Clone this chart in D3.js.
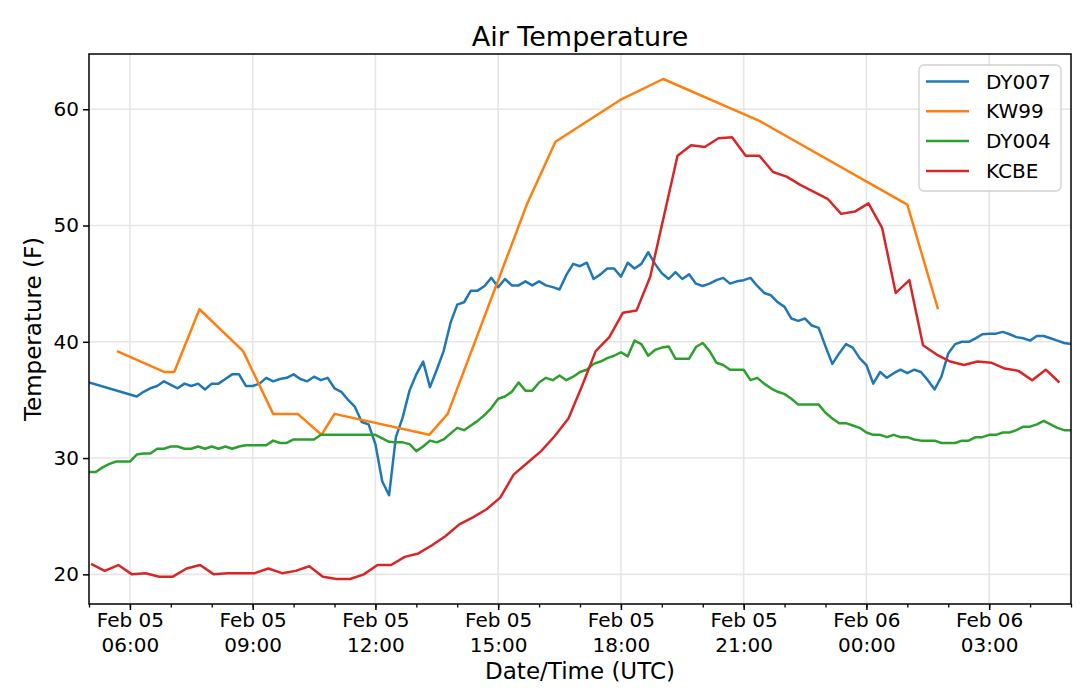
<!DOCTYPE html>
<html>
<head>
<meta charset="utf-8">
<script src="https://cdn.jsdelivr.net/npm/d3@7"></script>
<style>
    body { margin: 0; background: #fff; }
    svg { font-family: "DejaVu Sans", sans-serif; }
</style>
</head>
<body>
<div id="chart"></div>
<script>
// DY stations report every 10 minutes (Feb 05 05:00 -> Feb 06 05:00, UTC)
const dyTimes = [
    "05:00","05:10","05:20","05:30","05:40","05:50",
    "06:00","06:10","06:20","06:30","06:40","06:50",
    "07:00","07:10","07:20","07:30","07:40","07:50",
    "08:00","08:10","08:20","08:30","08:40","08:50",
    "09:00","09:10","09:20","09:30","09:40","09:50",
    "10:00","10:10","10:20","10:30","10:40","10:50",
    "11:00","11:10","11:20","11:30","11:40","11:50",
    "12:00","12:10","12:20","12:30","12:40","12:50",
    "13:00","13:10","13:20","13:30","13:40","13:50",
    "14:00","14:10","14:20","14:30","14:40","14:50",
    "15:00","15:10","15:20","15:30","15:40","15:50",
    "16:00","16:10","16:20","16:30","16:40","16:50",
    "17:00","17:10","17:20","17:30","17:40","17:50",
    "18:00","18:10","18:20","18:30","18:40","18:50",
    "19:00","19:10","19:20","19:30","19:40","19:50",
    "20:00","20:10","20:20","20:30","20:40","20:50",
    "21:00","21:10","21:20","21:30","21:40","21:50",
    "22:00","22:10","22:20","22:30","22:40","22:50",
    "23:00","23:10","23:20","23:30","23:40","23:50",
    "00:00","00:10","00:20","00:30","00:40","00:50",
    "01:00","01:10","01:20","01:30","01:40","01:50",
    "02:00","02:10","02:20","02:30","02:40","02:50",
    "03:00","03:10","03:20","03:30","03:40","03:50",
    "04:00","04:10","04:20","04:30","04:40","04:50",
    "05:00"
];

// DY007 has no reports between 05:10 and 06:00
const dy007Temps = [
    36.5, null, null, null, null, null,
    null, 35.3, 35.7, 36.0, 36.2, 36.6,
    36.3, 36.0, 36.4, 36.2, 36.4, 35.9,
    36.4, 36.4, 36.8, 37.2, 37.2, 36.2,
    36.2, 36.4, 36.9, 36.6, 36.8, 36.9,
    37.2, 36.8, 36.6, 37.0, 36.7, 36.9,
    36.0, 35.7, 35.0, 34.4, 33.1, 32.9,
    31.2, 28.0, 26.8, 31.8, 33.5, 35.8,
    37.2, 38.3, 36.1, 37.6, 39.2, 41.6,
    43.2, 43.4, 44.4, 44.4, 44.8, 45.5,
    44.7, 45.4, 44.85, 44.85, 45.2, 44.85,
    45.2, 44.85, 44.7, 44.5, 45.75, 46.7,
    46.5, 46.8, 45.4, 45.8, 46.3, 46.3,
    45.6, 46.8, 46.3, 46.7, 47.7, 46.7,
    45.9, 45.4, 46.0, 45.4, 45.8, 45.0,
    44.8, 45.0, 45.3, 45.5, 45.0, 45.2,
    45.3, 45.5, 44.8, 44.2, 44.0, 43.4,
    43.0, 42.0, 41.8, 42.0, 41.4, 41.2,
    39.6, 38.1, 39.0, 39.8, 39.5, 38.6,
    38.0, 36.4, 37.4, 36.9, 37.3, 37.6,
    37.3, 37.6, 37.4, 36.7, 35.9, 37.0,
    39.0, 39.8, 40.0, 40.0, 40.3, 40.65,
    40.7, 40.7, 40.85, 40.65, 40.4, 40.3,
    40.1, 40.5, 40.5, 40.3, 40.1, 39.9,
    39.8
];

const dy004Temps = [
    28.8, 28.8, 29.2, 29.5, 29.7, 29.7,
    29.7, 30.3, 30.4, 30.4, 30.8, 30.8,
    31.0, 31.0, 30.8, 30.8, 31.0, 30.8,
    31.0, 30.8, 31.0, 30.8, 31.0, 31.1,
    31.1, 31.1, 31.1, 31.5, 31.3, 31.3,
    31.6, 31.6, 31.6, 31.6, 32.0, 32.0,
    32.0, 32.0, 32.0, 32.0, 32.0, 32.0,
    32.0, 31.7, 31.4, 31.35, 31.35, 31.2,
    30.6, 31.0, 31.5, 31.35, 31.6, 32.1,
    32.6, 32.4, 32.8, 33.2, 33.7, 34.3,
    35.1, 35.3, 35.7, 36.5, 35.8, 35.8,
    36.5, 36.9, 36.7, 37.1, 36.7, 37.0,
    37.4, 37.6, 38.1, 38.3, 38.6, 38.8,
    39.1, 38.75, 40.1, 39.8, 38.8, 39.3,
    39.5, 39.6, 38.55, 38.55, 38.55, 39.55,
    39.9, 39.2, 38.2, 38.0, 37.6, 37.6,
    37.6, 36.7, 36.9, 36.4, 36.0, 35.7,
    35.5, 35.1, 34.6, 34.6, 34.6, 34.6,
    33.9, 33.4, 33.0, 33.0, 32.8, 32.6,
    32.2, 32.0, 32.0, 31.8, 32.0, 31.8,
    31.8, 31.6, 31.5, 31.5, 31.5, 31.3,
    31.3, 31.3, 31.5, 31.5, 31.8, 31.8,
    32.0, 32.0, 32.2, 32.2, 32.4, 32.7,
    32.7, 32.9, 33.2, 32.9, 32.6, 32.4,
    32.4
];

// KW99 reports are irregular
const kw99Times = [
    "05:41", "06:51", "07:05", "07:42", "08:46", "09:30", "10:06", "10:41", "11:00",
    "13:19", "13:46", "15:42", "16:24", "17:59", "19:02", "21:23", "01:00", "01:45"
];
const kw99Temps = [
    39.2, 37.4, 37.4, 42.8, 39.2, 33.8, 33.8, 32.0, 33.8,
    32.0, 33.8, 51.8, 57.2, 60.8, 62.6, 59.0, 51.8, 42.8
];

// KCBE reports every 20 minutes
const kcbeTimes = [
    "05:03","05:23","05:43","06:03","06:23","06:43","07:03","07:23","07:43",
    "08:03","08:23","08:43","09:03","09:23","09:43","10:03","10:23","10:43",
    "11:03","11:23","11:43","12:03","12:23","12:43","13:03","13:23","13:43",
    "14:03","14:23","14:43","15:03","15:23","15:43","16:03","16:23","16:43",
    "17:03","17:23","17:43","18:03","18:23","18:43","19:03","19:23","19:43",
    "20:03","20:23","20:43","21:03","21:23","21:43","22:03","22:23","22:43",
    "23:03","23:23","23:43","00:03","00:23","00:43","01:03","01:23","01:43",
    "02:03","02:23","02:43","03:03","03:23","03:43","04:03","04:23","04:43"
];
const kcbeTemps = [
    20.9, 20.3, 20.8, 20.0, 20.1, 19.8, 19.8, 20.5, 20.8,
    20.0, 20.1, 20.1, 20.1, 20.5, 20.1, 20.3, 20.7, 19.8,
    19.6, 19.6, 20.0, 20.8, 20.8, 21.5, 21.8, 22.5, 23.3,
    24.3, 24.9, 25.6, 26.6, 28.6, 29.6, 30.6, 31.9, 33.4,
    36.2, 39.2, 40.4, 42.5, 42.7, 45.6, 50.8, 56.0, 56.9,
    56.75, 57.5, 57.6, 56.0, 56.0, 54.6, 54.2, 53.5, 52.9,
    52.3, 51.0, 51.2, 51.9, 49.8, 44.2, 45.3, 39.7, 38.9,
    38.3, 38.0, 38.3, 38.2, 37.7, 37.5, 36.7, 37.6, 36.5
];

const stationNames = ["DY007", "KW99", "DY004", "KCBE"];
const yTickValues = [20, 30, 40, 50, 60];

// Turn "HH:MM" strings into UTC dates, rolling over to Feb 06 after midnight
function toDates(times) {
    let day = 0, prev = -1;
    return times.map(t => {
        const [h, m] = t.split(":").map(Number);
        const mins = h * 60 + m;
        if (mins < prev) day += 1;
        prev = mins;
        return new Date(Date.UTC(2020, 1, 5 + day, h, m));
    });
}

function toPoints(times, temps) {
    const dates = toDates(times);
    return temps.map((temp, i) => ({ time: dates[i], temp: temp }))
        .filter(d => d.temp !== null);
}

const series = [
    { name: stationNames[0], points: toPoints(dyTimes, dy007Temps) },
    { name: stationNames[1], points: toPoints(kw99Times, kw99Temps) },
    { name: stationNames[2], points: toPoints(dyTimes, dy004Temps) },
    { name: stationNames[3], points: toPoints(kcbeTimes, kcbeTemps) }
];

createChart(series);

function createChart(series) {
    const width = 1080;
    const height = 698;
    const margin = { top: 54, right: 9, bottom: 94, left: 89 };
    const innerW = width - margin.left - margin.right;
    const innerH = height - margin.top - margin.bottom;
    const fontSize = 20;

    const color = d3.scaleOrdinal().domain(stationNames).range(d3.schemeCategory10);

    const svg = d3.select("#chart")
        .append("svg")
        .attr("width", width)
        .attr("height", height);

    const g = svg.append("g")
        .attr("transform", `translate(${margin.left},${margin.top})`);

    // x spans the whole 24 hours of DY reports
    const allDy = toDates(dyTimes);
    const xScale = d3.scaleUtc()
        .domain([allDy[0], allDy[allDy.length - 1]])
        .range([0, innerW]);

    // y gets matplotlib-style 5% padding around the data
    const allTemps = series.flatMap(s => s.points.map(d => d.temp));
    const [tMin, tMax] = d3.extent(allTemps);
    const pad = (tMax - tMin) * 0.05;
    const yScale = d3.scaleLinear()
        .domain([tMin - pad, tMax + pad])
        .range([innerH, 0]);

    const majorTicks = xScale.ticks(d3.utcHour.every(3));

    // Grid lines
    g.append("g").selectAll("line.gy")
        .data(yTickValues)
        .join("line")
        .attr("x1", 0).attr("x2", innerW)
        .attr("y1", d => yScale(d)).attr("y2", d => yScale(d))
        .attr("stroke", "#e6e6e6").attr("stroke-width", 1.6);

    g.append("g").selectAll("line.gx")
        .data(majorTicks)
        .join("line")
        .attr("x1", d => xScale(d)).attr("x2", d => xScale(d))
        .attr("y1", 0).attr("y2", innerH)
        .attr("stroke", "#e6e6e6").attr("stroke-width", 1.6);

    // Lines
    g.append("clipPath").attr("id", "clip")
        .append("rect").attr("width", innerW).attr("height", innerH);

    const line = d3.line()
        .x(d => xScale(d.time))
        .y(d => yScale(d.temp));

    g.append("g").attr("clip-path", "url(#clip)")
        .selectAll("path")
        .data(series)
        .join("path")
        .attr("d", d => line(d.points))
        .attr("fill", "none")
        .attr("stroke", d => color(d.name))
        .attr("stroke-width", 2.5)
        .attr("stroke-linejoin", "round");

    // Minor x ticks every hour
    g.append("g")
        .attr("transform", `translate(0,${innerH})`)
        .call(d3.axisBottom(xScale).ticks(d3.utcHour.every(1)).tickSize(3.5).tickFormat(""))
        .call(a => a.select(".domain").remove())
        .selectAll("line").attr("stroke-width", 1.3);

    // Major x ticks with two-line labels
    const xAxis = g.append("g")
        .attr("transform", `translate(0,${innerH})`)
        .call(d3.axisBottom(xScale).tickValues(majorTicks).tickSize(6).tickFormat(""))
        .call(a => a.select(".domain").remove());
    xAxis.selectAll("line").attr("stroke-width", 1.5);
    xAxis.selectAll(".tick").append("text")
        .attr("fill", "#000")
        .attr("font-size", fontSize)
        .attr("font-family", "DejaVu Sans")
        .attr("text-anchor", "middle")
        .each(function(d) {
            const t = d3.select(this);
            t.append("tspan").attr("x", 0).attr("y", 23).text(d3.utcFormat("%b %d")(d));
            t.append("tspan").attr("x", 0).attr("y", 48).text(d3.utcFormat("%H:%M")(d));
        });

    // y axis
    const yAxis = g.append("g")
        .call(d3.axisLeft(yScale).tickValues(yTickValues).tickSize(6).tickPadding(4))
        .call(a => a.select(".domain").remove());
    yAxis.selectAll("line").attr("stroke-width", 1.5);
    yAxis.selectAll("text")
        .attr("font-size", fontSize)
        .attr("font-family", "DejaVu Sans")
        .attr("fill", "#000");

    // Frame
    g.append("rect")
        .attr("width", innerW).attr("height", innerH)
        .attr("fill", "none").attr("stroke", "#000").attr("stroke-width", 1.5);

    // Axis labels and title
    g.append("text")
        .attr("x", innerW / 2).attr("y", innerH + 75)
        .attr("text-anchor", "middle")
        .attr("font-size", 23)
        .text("Date/Time (UTC)");

    g.append("text")
        .attr("transform", "rotate(-90)")
        .attr("x", -innerH / 2).attr("y", -48)
        .attr("text-anchor", "middle")
        .attr("font-size", 23)
        .text("Temperature (F)");

    g.append("text")
        .attr("x", innerW / 2).attr("y", -8)
        .attr("text-anchor", "middle")
        .attr("font-size", 27)
        .text("Air Temperature");

    // Legend
    const legend = g.append("g")
        .attr("transform", `translate(${innerW - 152},11)`);

    legend.append("rect")
        .attr("width", 142).attr("height", 126)
        .attr("rx", 5)
        .attr("fill", "#fff").attr("fill-opacity", 0.8)
        .attr("stroke", "#d0d0d0").attr("stroke-width", 1.3);

    stationNames.forEach((name, i) => {
        const y = 16.5 + i * 29.8;
        legend.append("line")
            .attr("x1", 7).attr("x2", 50)
            .attr("y1", y).attr("y2", y)
            .attr("stroke", color(name)).attr("stroke-width", 2.5);
        legend.append("text")
            .attr("x", 67).attr("y", y + 7)
            .attr("font-size", fontSize)
            .text(name);
    });
}
</script>
</body>
</html>
